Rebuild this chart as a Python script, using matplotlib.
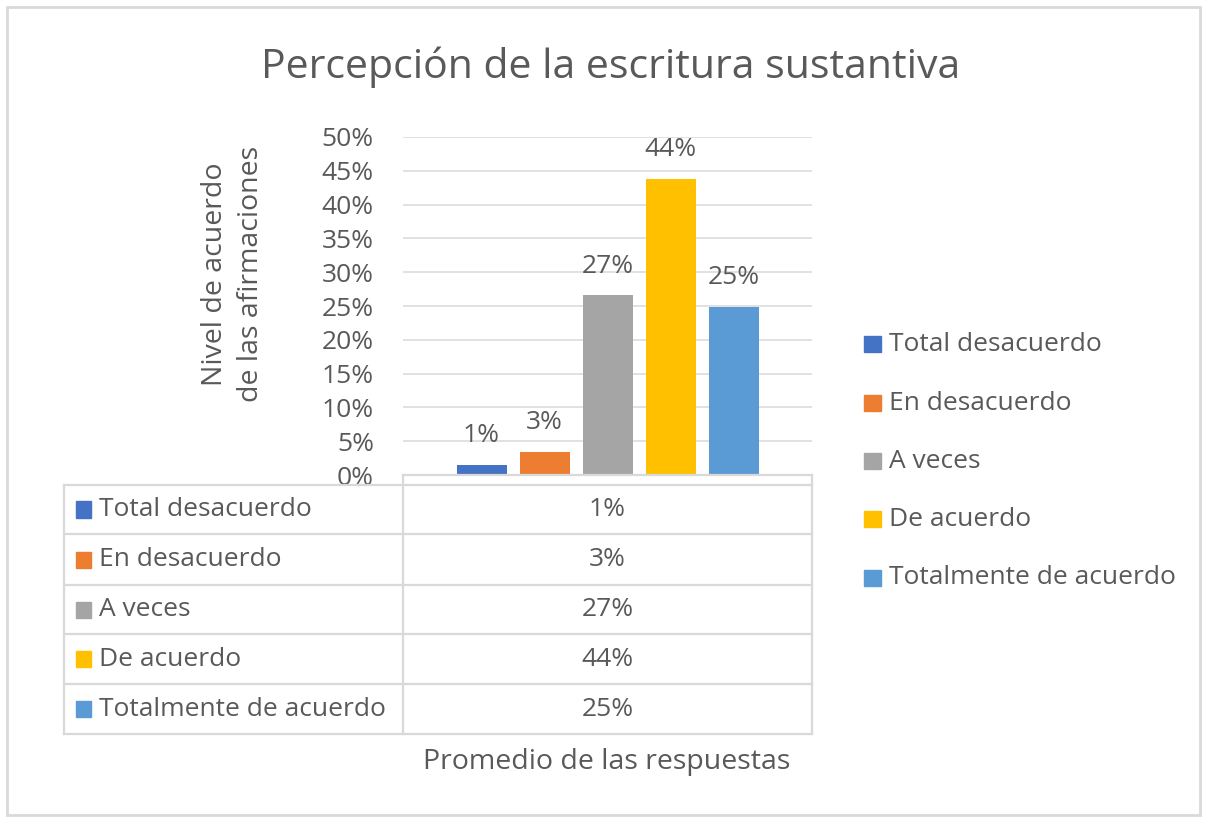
import matplotlib
matplotlib.use("Agg")
import matplotlib.pyplot as plt
from matplotlib.patches import Rectangle
from matplotlib.lines import Line2D

# ---- data ----
categories = ["Total desacuerdo", "En desacuerdo", "A veces", "De acuerdo", "Totalmente de acuerdo"]
values = [0.015, 0.034, 0.266, 0.438, 0.249]
value_labels = ["1%", "3%", "27%", "44%", "25%"]
colors = ["#4472C4", "#ED7D31", "#A5A5A5", "#FFC000", "#5B9BD5"]
yticks = [0.0, 0.05, 0.10, 0.15, 0.20, 0.25, 0.30, 0.35, 0.40, 0.45, 0.50]
ytick_labels = ["0%", "5%", "10%", "15%", "20%", "25%", "30%", "35%", "40%", "45%", "50%"]
title = "Percepción de la escritura sustantiva"
ylabel = "Nivel de acuerdo\nde las afirmaciones"
xlabel = "Promedio de las respuestas"

W, H = 1205, 821
plt.rcParams["font.family"] = ["Open Sans", "DejaVu Sans"]
TXT = "#595959"
GRID = "#d9d9d9"

fig = plt.figure(figsize=(W / 100, H / 100), dpi=100)

def fx(x):
    return x / W

def fy(y):
    return 1 - y / H

# outer border
fig.add_artist(Rectangle((fx(7), fy(815)), fx(1200) - fx(7), fy(7) - fy(815),
                         transform=fig.transFigure, fill=False, ec=GRID, lw=2))

# plot area
L, R, T, B = 403, 812, 137, 475
ax = fig.add_axes([fx(L), fy(B), fx(R) - fx(L), fy(T) - fy(B)])
ax.set_xlim(-0.5, 0.5)
ax.set_ylim(0, 0.5)
for s in ax.spines.values():
    s.set_visible(False)
ax.set_yticks(yticks)
ax.set_yticklabels(ytick_labels)
ax.tick_params(axis="y", length=0, pad=21, labelsize=19, labelcolor=TXT)
ax.set_xticks([])
ax.yaxis.grid(True, color=GRID, lw=1.1)
ax.set_axisbelow(True)

n = len(values)
width = 50 / (R - L)
step = 63 / (R - L)
for i, (v, c, lab) in enumerate(zip(values, colors, value_labels)):
    xpos = (i - (n - 1) / 2) * step
    ax.bar(xpos, v, width=width, color=c, zorder=3)
    ax.annotate(lab, (xpos, v), xytext=(0, 12), textcoords="offset points",
                ha="center", va="bottom", fontsize=19, color=TXT)

# title
fig.text(fx(611), fy(67), title, ha="center", va="center", fontsize=29.5, color=TXT)

# y label
fig.text(fx(233), fy(274), ylabel, ha="center", va="center", rotation=90,
         fontsize=20.5, color=TXT, linespacing=1.42, multialignment="center")

# data table
row_edges = [485, 534, 585, 634, 684, 734]
TL, TM, TR = 64, 403, 812

def hline(x0, x1, y):
    fig.add_artist(Line2D([fx(x0), fx(x1)], [fy(y), fy(y)], transform=fig.transFigure,
                          color=GRID, lw=1.6))

def vline(x, y0, y1):
    fig.add_artist(Line2D([fx(x), fx(x)], [fy(y0), fy(y1)], transform=fig.transFigure,
                          color=GRID, lw=1.6))

hline(TM, TR, B)
for y in row_edges:
    hline(TL, TR, y)
vline(TL, row_edges[0], row_edges[-1])
vline(TM, B, row_edges[-1])
vline(TR, B, row_edges[-1])

for i, (cat, c, lab) in enumerate(zip(categories, colors, value_labels)):
    yc = (row_edges[i] + row_edges[i + 1]) / 2
    fig.add_artist(Rectangle((fx(76), fy(yc + 8)), fx(91) - fx(76), fy(yc - 8) - fy(yc + 8),
                             transform=fig.transFigure, color=c))
    fig.text(fx(99), fy(yc), cat, ha="left", va="center", fontsize=19, color=TXT)
    fig.text(fx((TM + TR) / 2), fy(yc), lab, ha="center", va="center", fontsize=19, color=TXT)

# x label
fig.text(fx(607), fy(762), xlabel, ha="center", va="center", fontsize=20.5, color=TXT)

# legend
leg_y = [344, 403, 461, 519, 578]
for cat, c, y in zip(categories, colors, leg_y):
    fig.add_artist(Rectangle((fx(864), fy(y + 8)), fx(881) - fx(864), fy(y - 8) - fy(y + 8),
                             transform=fig.transFigure, color=c))
    fig.text(fx(889), fy(y), cat, ha="left", va="center", fontsize=19, color=TXT)

fig.savefig("out.png", dpi=100, facecolor="white")
